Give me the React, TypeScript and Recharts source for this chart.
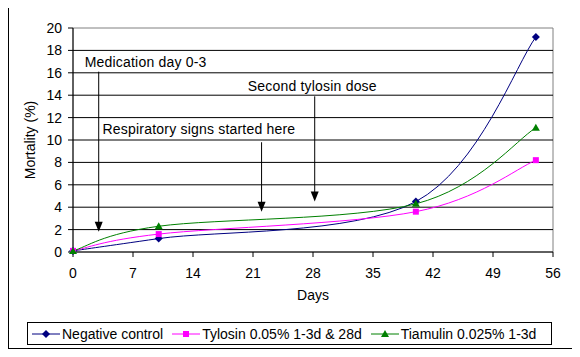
import React from 'react';
import {
  LineChart,
  Line,
  XAxis,
  YAxis,
  ReferenceLine,
  ReferenceArea,
  Label,
} from 'recharts';

// Data
const days = [0, 10, 40, 54];
const negativeControl = [0.1, 1.2, 4.5, 19.2];
const tylosin = [0.1, 1.6, 3.6, 8.2];
const tiamulin = [0.1, 2.3, 4.3, 11.1];

const xTicks = [0, 7, 14, 21, 28, 35, 42, 49, 56];
const yTicks = [0, 2, 4, 6, 8, 10, 12, 14, 16, 18, 20];

const seriesNames = ['Negative control', 'Tylosin 0.05% 1-3d & 28d', 'Tiamulin 0.025% 1-3d'];

// Arrows: day, top value, tip value, label text (label offset in px from arrow top)
const annotations = [
  { day: 3, from: 16.1, to: 1.8, text: 'Medication day 0-3', dx: -14, dy: -5 },
  { day: 22, from: 9.8, to: 3.6, text: 'Respiratory signs started here', dx: -159, dy: -8 },
  { day: 28.2, from: 13.9, to: 4.5, text: 'Second tylosin dose', dx: -67, dy: -5 },
];

const data = days.map((d, i) => ({
  day: d,
  negative: negativeControl[i],
  tylosin: tylosin[i],
  tiamulin: tiamulin[i],
}));

// Excel-style smoothed line (Catmull-Rom as cubic bezier)
const excelCurve = (context: any) => {
  let pts: [number, number][] = [];
  return {
    areaStart() {},
    areaEnd() {},
    lineStart() {
      pts = [];
    },
    lineEnd() {
      if (!pts.length) return;
      context.moveTo(pts[0][0], pts[0][1]);
      for (let i = 0; i < pts.length - 1; i++) {
        const p0 = pts[Math.max(i - 1, 0)];
        const p1 = pts[i];
        const p2 = pts[i + 1];
        const p3 = pts[Math.min(i + 2, pts.length - 1)];
        context.bezierCurveTo(
          p1[0] + (p2[0] - p0[0]) / 6,
          p1[1] + (p2[1] - p0[1]) / 6,
          p2[0] - (p3[0] - p1[0]) / 6,
          p2[1] - (p3[1] - p1[1]) / 6,
          p2[0],
          p2[1]
        );
      }
    },
    point(x: number, y: number) {
      pts.push([x, y]);
    },
  };
};

const NAVY = '#000080';
const MAGENTA = '#FF00FF';
const GREEN = '#008000';

const Diamond = ({ cx, cy, fill }: any) => (
  <polygon points={`${cx},${cy - 4} ${cx + 4},${cy} ${cx},${cy + 4} ${cx - 4},${cy}`} fill={fill} />
);
const Square = ({ cx, cy, fill }: any) => <rect x={cx - 3} y={cy - 3} width={6} height={6} fill={fill} />;
const Triangle = ({ cx, cy, fill }: any) => (
  <polygon points={`${cx},${cy - 4} ${cx + 4},${cy + 3} ${cx - 4},${cy + 3}`} fill={fill} />
);

const markers = [Diamond, Square, Triangle];
const colors = [NAVY, MAGENTA, GREEN];
const keys = ['negative', 'tylosin', 'tiamulin'];

const arrowShape = (text: string, dx: number, dy: number) => (props: any) => {
  const { x1, y1, x2, y2 } = props;
  return (
    <g>
      <line x1={x1} y1={y1} x2={x2} y2={y2 - 9} stroke="#000" strokeWidth={1} />
      <polygon points={`${x2 - 4},${y2 - 10} ${x2 + 4},${y2 - 10} ${x2},${y2}`} fill="#000" />
      <text x={x1 + dx} y={y1 + dy} fontSize={14} letterSpacing={0.2} fill="#000">
        {text}
      </text>
    </g>
  );
};

export default function App() {
  return (
    <div
      style={{
        position: 'relative',
        width: 565,
        height: 342,
        marginTop: -1,
        boxSizing: 'border-box',
        border: '1px solid #000',
        fontFamily: '"Liberation Sans", Arial, sans-serif',
      }}
    >
      <LineChart width={563} height={340} data={data} margin={{ top: 20, right: 19, left: 4, bottom: 48 }}>
        {/* horizontal gridlines */}
        {yTicks.slice(1, -1).map((t) => (
          <ReferenceLine key={`g${t}`} y={t} stroke="#000" strokeWidth={1} />
        ))}
        <ReferenceArea x1={0} x2={56} y1={0} y2={20} fill="none" stroke="#808080" />
        <XAxis
          type="number"
          dataKey="day"
          domain={[0, 56]}
          ticks={xTicks}
          stroke="#000"
          tickSize={5}
          tickMargin={11}
          height={48}
          tick={{ fill: '#000', fontSize: 14 }}
        >
          <Label value="Days" position="insideBottom" offset={0} fill="#000" fontSize={14} />
        </XAxis>
        <YAxis
          domain={[0, 20]}
          ticks={yTicks}
          interval={0}
          stroke="#000"
          tickSize={5}
          tickMargin={6}
          width={60}
          tick={{ fill: '#000', fontSize: 14 }}
        >
          <Label
            value="Mortality (%)"
            angle={-90}
            position="insideLeft"
            offset={17}
            fill="#000"
            fontSize={14}
            style={{ textAnchor: 'middle' }}
          />
        </YAxis>
        {annotations.map((a) => (
          <ReferenceLine
            key={a.text}
            segment={[
              { x: a.day, y: a.from },
              { x: a.day, y: a.to },
            ]}
            shape={arrowShape(a.text, a.dx, a.dy)}
          />
        ))}
        {keys.map((k, i) => {
          const Marker = markers[i];
          return (
            <Line
              key={k}
              dataKey={k}
              type={excelCurve as any}
              stroke={colors[i]}
              strokeWidth={1}
              isAnimationActive={false}
              activeDot={false}
              dot={(p: any) => <Marker key={`${k}-${p.index}`} cx={p.cx} cy={p.cy} fill={colors[i]} />}
            />
          );
        })}
      </LineChart>
      <div
        style={{
          position: 'absolute',
          left: 18,
          top: 314,
          width: 525,
          height: 23,
          boxSizing: 'border-box',
          border: '1px solid #000',
          display: 'flex',
          alignItems: 'center',
          paddingLeft: 4,
          fontSize: 14,
          whiteSpace: 'nowrap',
        }}
      >
        {seriesNames.map((name, i) => {
          const Marker = markers[i];
          return (
            <div key={name} style={{ display: 'flex', alignItems: 'center', marginRight: 9 }}>
              <svg width={28} height={10} style={{ marginRight: 2 }}>
                <line x1={0} y1={5} x2={28} y2={5} stroke={colors[i]} strokeWidth={1} />
                <Marker cx={14} cy={5} fill={colors[i]} />
              </svg>
              <span>{name}</span>
            </div>
          );
        })}
      </div>
    </div>
  );
}
